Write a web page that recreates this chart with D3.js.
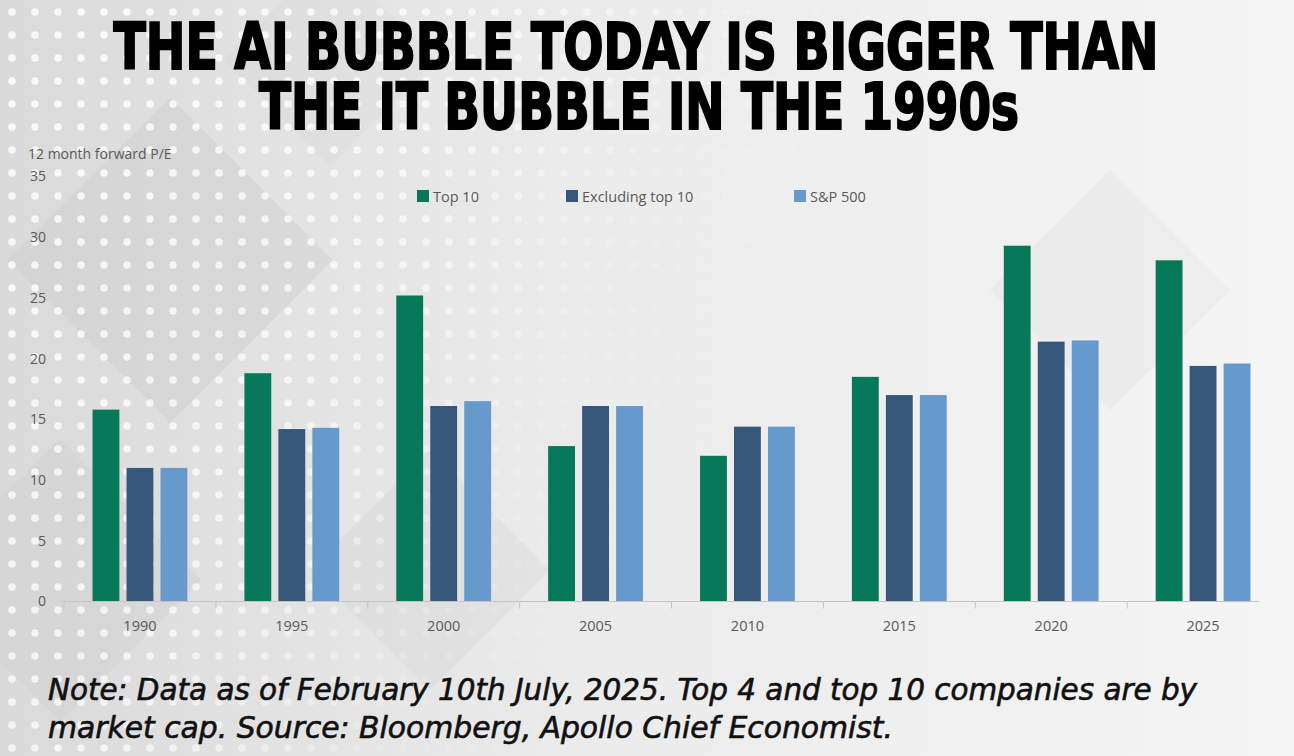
<!DOCTYPE html>
<html>
<head>
<meta charset="utf-8">
<script src="https://cdn.jsdelivr.net/npm/d3@7"></script>
<style>
  html, body { margin: 0; padding: 0; background: #eeeeee; }
  svg { display: block; }
</style>
</head>
<body>
<div id="chart"></div>
<script>
// Data
const years = ["1990", "1995", "2000", "2005", "2010", "2015", "2020", "2025"];
const seriesNames = ["Top 10", "Excluding top 10", "S&P 500"];
const top10 = [15.8, 18.8, 25.2, 12.8, 12.0, 18.5, 29.3, 28.1];
const excludingTop10 = [11.0, 14.2, 16.1, 16.1, 14.4, 17.0, 21.4, 19.4];
const sp500 = [11.0, 14.3, 16.5, 16.1, 14.4, 17.0, 21.5, 19.6];
const yTicks = [0, 5, 10, 15, 20, 25, 30, 35];
const titleLines = ["THE AI BUBBLE TODAY IS BIGGER THAN", "THE IT BUBBLE IN THE 1990s"];
const noteLines = [
  "Note: Data as of February 10th July, 2025. Top 4 and top 10 companies are by",
  "market cap. Source: Bloomberg, Apollo Chief Economist."
];

const colors = ["#08785b", "#35577a", "#6699cc"];
const seriesValues = [top10, excludingTop10, sp500];

const W = 1294, H = 756;
const condensed = "'DejaVu Sans Condensed', 'Liberation Sans Narrow', 'DejaVu Sans', sans-serif";

const svg = d3.select("#chart").append("svg")
    .attr("width", W)
    .attr("height", H);

// Background: grey gradient with halftone dots and faint diamonds
const defs = svg.append("defs");

const bg = defs.append("linearGradient")
    .attr("id", "bg").attr("x1", 0).attr("y1", 0).attr("x2", 1).attr("y2", 0);
bg.append("stop").attr("offset", "0%").attr("stop-color", "#dadada");
bg.append("stop").attr("offset", "45%").attr("stop-color", "#ebebeb");
bg.append("stop").attr("offset", "100%").attr("stop-color", "#f5f5f5");

const dots = defs.append("pattern")
    .attr("id", "dots")
    .attr("width", 23).attr("height", 23)
    .attr("patternUnits", "userSpaceOnUse");
dots.append("circle").attr("cx", 12).attr("cy", 12).attr("r", 3.8).attr("fill", "#ffffff");

const fade = defs.append("linearGradient")
    .attr("id", "fade").attr("x1", 0).attr("y1", 0).attr("x2", 1).attr("y2", 0.3);
fade.append("stop").attr("offset", "0%").attr("stop-color", "#fff").attr("stop-opacity", 1);
fade.append("stop").attr("offset", "35%").attr("stop-color", "#fff").attr("stop-opacity", 0.8);
fade.append("stop").attr("offset", "55%").attr("stop-color", "#fff").attr("stop-opacity", 0.15);
fade.append("stop").attr("offset", "70%").attr("stop-color", "#fff").attr("stop-opacity", 0);

const mask = defs.append("mask").attr("id", "dotMask");
mask.append("rect").attr("width", W).attr("height", H).attr("fill", "url(#fade)");

svg.append("rect").attr("width", W).attr("height", H).attr("fill", "url(#bg)");

// faint diamond shapes
const diamonds = [
  { x: 170, y: 260, s: 230, o: 0.35 },
  { x: 60, y: 580, s: 200, o: 0.3 },
  { x: 430, y: 570, s: 170, o: 0.2 },
  { x: 1110, y: 290, s: 170, o: 0.12 },
  { x: 330, y: 60, s: 150, o: 0.15 }
];
svg.append("g").selectAll("rect")
    .data(diamonds)
    .join("rect")
    .attr("x", d => -d.s / 2).attr("y", d => -d.s / 2)
    .attr("width", d => d.s).attr("height", d => d.s)
    .attr("transform", d => `translate(${d.x},${d.y}) rotate(45)`)
    .attr("fill", "#c9c9c9")
    .attr("opacity", d => d.o);

svg.append("rect")
    .attr("width", W).attr("height", H)
    .attr("fill", "url(#dots)")
    .attr("mask", "url(#dotMask)")
    .attr("opacity", 0.85);

// Scales
const x0 = d3.scaleBand()
    .domain(years)
    .range([64, 1279])
    .padding(0);

const x1 = d3.scaleBand()
    .domain(seriesNames)
    .range([0, x0.bandwidth()])
    .paddingInner(0.21)
    .paddingOuter(0.84);

const y = d3.scaleLinear()
    .domain([0, 35])
    .range([601.5, 176.5]);

// Title
const titleX = [636, 639];
svg.append("g").selectAll("text")
    .data(titleLines)
    .join("text")
    .attr("transform", (d, i) => `translate(${titleX[i]},${69 + i * 60}) scale(1,1.12)`)
    .attr("text-anchor", "middle")
    .attr("font-family", condensed)
    .attr("font-stretch", "condensed")
    .attr("font-weight", 700)
    .attr("font-size", 58)
    .attr("textLength", (d, i) => i === 0 ? 1045 : 760)
    .attr("lengthAdjust", "spacingAndGlyphs")
    .attr("fill", "#000")
    .attr("stroke", "#000")
    .attr("stroke-width", 1.8)
    .text(d => d);

// Y axis label
svg.append("text")
    .attr("x", 28)
    .attr("y", 159)
    .attr("font-family", "'Open Sans', sans-serif")
    .attr("font-size", 14)
    .attr("fill", "#595959")
    .text("12 month forward P/E");

// Y axis (labels only)
const yAxis = svg.append("g")
    .attr("transform", "translate(46,0)")
    .call(d3.axisLeft(y).tickValues(yTicks).tickSize(0).tickPadding(0));
yAxis.select(".domain").remove();
yAxis.selectAll("text")
    .attr("font-family", "'Open Sans', sans-serif")
    .attr("font-size", 14)
    .attr("fill", "#595959");

// Bars
const groups = svg.append("g").selectAll("g")
    .data(years)
    .join("g")
    .attr("transform", d => `translate(${x0(d)},0)`);

groups.selectAll("rect")
    .data((d, i) => seriesNames.map((s, j) => ({ series: s, value: seriesValues[j][i], color: colors[j] })))
    .join("rect")
    .attr("x", d => x1(d.series))
    .attr("width", x1.bandwidth())
    .attr("y", d => y(d.value))
    .attr("height", d => y(0) - y(d.value))
    .attr("fill", d => d.color);

// X axis
const xAxis = svg.append("g")
    .attr("transform", `translate(0,${y(0)})`)
    .call(d3.axisBottom(x0).tickSize(0).tickPadding(19));
xAxis.select(".domain").remove();
xAxis.selectAll("text")
    .attr("font-family", "'Open Sans', sans-serif")
    .attr("font-size", 14.5)
    .attr("fill", "#595959");

xAxis.append("line")
    .attr("x1", x0.range()[0])
    .attr("x2", x0.range()[1] - 20)
    .attr("stroke", "#c4c4c4")
    .attr("stroke-width", 1.2);

xAxis.selectAll(".sep")
    .data(years)
    .join("line")
    .attr("class", "sep")
    .attr("x1", d => x0(d)).attr("x2", d => x0(d))
    .attr("y1", 0).attr("y2", 7)
    .attr("stroke", "#c4c4c4")
    .attr("stroke-width", 1);

// Legend
const legendX = [417, 566, 794];
const legend = svg.append("g").selectAll("g")
    .data(seriesNames)
    .join("g")
    .attr("transform", (d, i) => `translate(${legendX[i]},190)`);
legend.append("rect")
    .attr("width", 12).attr("height", 12)
    .attr("fill", (d, i) => colors[i]);
legend.append("text")
    .attr("x", 16).attr("y", 11.5)
    .attr("font-family", "'Open Sans', sans-serif")
    .attr("font-size", 14.5)
    .attr("fill", "#595959")
    .text(d => d);

// Footer note
svg.append("g").selectAll("text")
    .data(noteLines)
    .join("text")
    .attr("x", 48)
    .attr("y", (d, i) => 700 + i * 38)
    .attr("font-family", condensed)
    .attr("font-stretch", "condensed")
    .attr("font-style", "italic")
    .attr("font-size", 31)
    .attr("textLength", (d, i) => i === 0 ? 1149 : 845)
    .attr("lengthAdjust", "spacingAndGlyphs")
    .attr("fill", "#111")
    .attr("stroke", "#111")
    .attr("stroke-width", 0.6)
    .text(d => d);
</script>
</body>
</html>
